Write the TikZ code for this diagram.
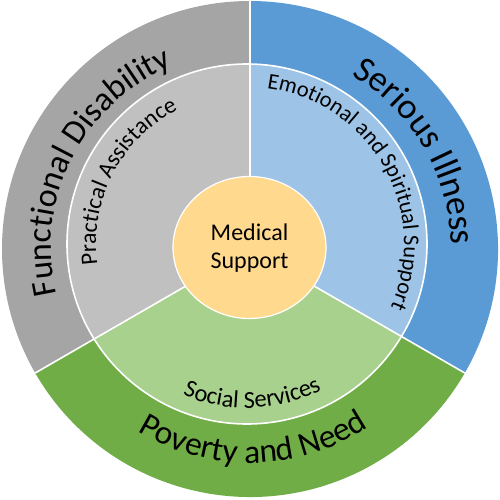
\documentclass[tikz,border=0pt]{standalone}
\usepackage{fontspec}
\setmainfont{Carlito}
\usetikzlibrary{decorations.text}
\definecolor{outgray}{HTML}{A5A5A5}
\definecolor{ingray}{HTML}{C0C0C0}
\definecolor{outblue}{HTML}{5B9BD5}
\definecolor{inblue}{HTML}{9DC3E6}
\definecolor{outgreen}{HTML}{70AD47}
\definecolor{ingreen}{HTML}{A9D18E}
\definecolor{medyellow}{HTML}{FFD98E}
\newcommand{\fsz}[1]{\fontsize{#1}{#1}\selectfont}
\tikzset{
  arctext/.style={decorate, decoration={text along path, text align=center, text={#1}}},
  sep/.style={draw=white, line width=1.6pt},
}
\begin{document}
\begin{tikzpicture}[x=1pt,y=1pt]
\useasboundingbox (-250,-251) rectangle (249,249);
\fill[white] (-250,-251) rectangle (249,249);
\coordinate (O) at (0,0);
\coordinate (IC) at (-3,5);
% outer ring
\fill[outgray] (O) -- (90:248pt) arc[start angle=90,end angle=210,radius=248pt] -- cycle;
\fill[outgreen] (O) -- (210:248pt) arc[start angle=210,end angle=330,radius=248pt] -- cycle;
\fill[outblue] (O) -- (330:248pt) arc[start angle=330,end angle=450,radius=248pt] -- cycle;
% inner ring
\begin{scope}
\clip (IC) circle[radius=180pt];
\fill[ingray] (O) -- (90:260pt) arc[start angle=90,end angle=210,radius=260pt] -- cycle;
\fill[ingreen] (O) -- (210:260pt) arc[start angle=210,end angle=330,radius=260pt] -- cycle;
\fill[inblue] (O) -- (330:260pt) arc[start angle=330,end angle=450,radius=260pt] -- cycle;
\end{scope}
% separators
\draw[sep] (IC) circle[radius=180pt];
\draw[sep] (O) -- (90:248pt);
\draw[sep] (O) -- (210:248pt);
\draw[sep] (O) -- (330:248pt);
% centre
\fill[medyellow, draw=white, line width=1.2pt] (-0.5,1.5) ellipse[x radius=76.5pt, y radius=71pt];
\node[align=center, font=\fontsize{24}{28}\selectfont, inner sep=0pt] (med) at (-0.5,1) {Medical\\Support};
% outer labels
\path[arctext={|\fsz{34}|Functional Disability}] (218:199pt) arc[start angle=218,end angle=88,radius=199pt];
\path[arctext={|\fsz{36}|Serious Illness}] (95.5:201pt) arc[start angle=95.5,end angle=-34.5,radius=201pt];
\path[arctext={|\fsz{33.5}|Poverty and Need}] (206:214pt) arc[start angle=206,end angle=336,radius=214pt];
% inner labels
\path[arctext={|\fsz{23.5}|Practical Assistance}] ([shift={(IC)}]217.5:151pt) arc[start angle=217.5,end angle=87.5,radius=151pt];
\path[arctext={|\fsz{22.5}|Emotional and Spiritual Support}] ([shift={(IC)}]99.5:157pt) arc[start angle=99.5,end angle=-40.5,radius=157pt];
\path[arctext={|\fsz{24.5}|Social Services}] ([shift={(IC)}]207:164pt) arc[start angle=207,end angle=337,radius=164pt];
\end{tikzpicture}
\end{document}
